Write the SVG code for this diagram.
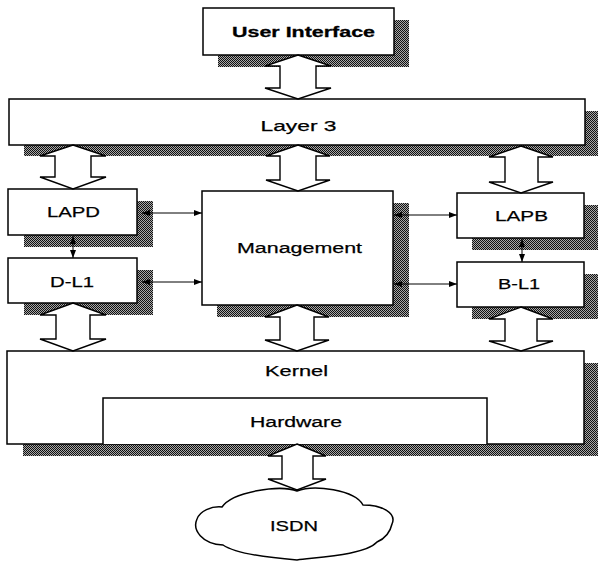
<svg xmlns="http://www.w3.org/2000/svg" width="598" height="562" viewBox="0 0 598 562">
  <defs>
    <!-- dithered halftone used for the drop shadows -->
    <pattern id="halftone" width="2" height="2" patternUnits="userSpaceOnUse">
      <rect width="2" height="2" fill="#a8a8a8"/>
      <rect x="0" y="0" width="1" height="1" fill="#111"/>
      <rect x="1" y="1" width="1" height="1" fill="#111"/>
    </pattern>
    <marker id="tip" viewBox="0 0 8 6" refX="8" refY="3" markerWidth="8" markerHeight="6" markerUnits="userSpaceOnUse" orient="auto-start-reverse">
      <path d="M0,0 L8,3 L0,6 Z" fill="#000"/>
    </marker>
  </defs>
  <style>
    .shadow { fill: url(#halftone); }
    .box { fill: #fff; stroke: #000; stroke-width: 1.5; }
    .big { fill: #fff; stroke: #000; stroke-width: 1.4; stroke-linejoin: miter; }
    .link { fill: none; stroke: #000; stroke-width: 1; marker-start: url(#tip); marker-end: url(#tip); }
    .label { font-family: "Liberation Sans", Arial, sans-serif; font-size: 15.5px; fill: #000; stroke: #000; stroke-width: 0.25; text-anchor: middle; }
    .bold { font-weight: bold; stroke-width: 0.3; }
  </style>

  <rect width="598" height="562" fill="#fff"/>

  <!-- shadows, drawn beneath everything -->
  <g id="shadows">
    <rect class="shadow" x="218" y="20" width="191" height="47"/>
    <rect class="shadow" x="24" y="111" width="576" height="45"/>
    <rect class="shadow" x="24" y="201" width="129" height="46"/>
    <rect class="shadow" x="24" y="270" width="129" height="45"/>
    <rect class="shadow" x="217" y="203" width="192" height="114"/>
    <rect class="shadow" x="472" y="205" width="128" height="45"/>
    <rect class="shadow" x="472" y="274" width="128" height="45"/>
    <rect class="shadow" x="23" y="363" width="577" height="93"/>
  </g>

  <g id="user-interface">
    <rect class="box" x="203" y="8" width="191" height="47"/>
    <text class="label bold" x="303.5" y="37" textLength="143" lengthAdjust="spacingAndGlyphs">User Interface</text>
  </g>

  <g id="layer3">
    <rect class="box" x="9" y="99" width="576" height="46"/>
    <text class="label" x="298.5" y="131" textLength="76" lengthAdjust="spacingAndGlyphs">Layer 3</text>
  </g>

  <g id="lapd">
    <rect class="box" x="8" y="189" width="129" height="46"/>
    <text class="label" x="73.5" y="217" textLength="53" lengthAdjust="spacingAndGlyphs">LAPD</text>
  </g>

  <g id="d-l1">
    <rect class="box" x="8" y="258" width="129" height="45"/>
    <text class="label" x="72" y="287" textLength="44" lengthAdjust="spacingAndGlyphs">D-L1</text>
  </g>

  <g id="management">
    <rect class="box" x="202" y="191" width="191" height="114"/>
    <text class="label" x="299.5" y="253" textLength="125" lengthAdjust="spacingAndGlyphs">Management</text>
  </g>

  <g id="lapb">
    <rect class="box" x="457" y="193" width="127" height="45"/>
    <text class="label" x="521.5" y="221" textLength="53" lengthAdjust="spacingAndGlyphs">LAPB</text>
  </g>

  <g id="b-l1">
    <rect class="box" x="457" y="262" width="127" height="45"/>
    <text class="label" x="519" y="289" textLength="42" lengthAdjust="spacingAndGlyphs">B-L1</text>
  </g>

  <g id="kernel">
    <rect class="box" x="7" y="351" width="577" height="93"/>
    <text class="label" x="296.5" y="376" textLength="63" lengthAdjust="spacingAndGlyphs">Kernel</text>
  </g>

  <g id="hardware">
    <path class="box" d="M103,444 V398 H487 V444"/>
    <text class="label" x="296" y="427" textLength="92" lengthAdjust="spacingAndGlyphs">Hardware</text>
  </g>

  <g id="isdn">
    <path class="box" d="M222,507 C232,492 280,484 297,491 C314,484 355,490 363,505 C382,505 397,513 392,524 C390,533 384,539 377,542 C365,555 320,557 297,560 C272,558 236,554 223,545 C202,544 192,530 197,519 C200,511 211,506 222,507 Z"/>
    <text class="label" x="294" y="531" textLength="48" lengthAdjust="spacingAndGlyphs">ISDN</text>
  </g>

  <g id="connectors">
    <!-- wide double-headed data-path arrows -->
    <path class="big" d="M298,55 L331,66 L316,66 L316,88 L331,88 L298,99 L265,88 L280,88 L280,66 L265,66 Z"/>
    <path class="big" d="M73,145 L106,156 L91,156 L91,177 L106,177 L73,189 L40,177 L55,177 L55,156 L40,156 Z"/>
    <path class="big" d="M298,145 L330,156 L316,156 L316,180 L330,180 L298,191 L266,180 L280,180 L280,156 L266,156 Z"/>
    <path class="big" d="M521,146 L553,157 L538,157 L538,182 L553,182 L521,193 L489,182 L505,182 L505,157 L489,157 Z"/>
    <path class="big" d="M73,303 L106,315 L90,315 L90,339 L106,339 L73,351 L40,339 L56,339 L56,315 L40,315 Z"/>
    <path class="big" d="M297,305 L329,317 L314,317 L314,340 L329,340 L297,351 L265,340 L280,340 L280,317 L265,317 Z"/>
    <path class="big" d="M521,307 L553,319 L537,319 L537,341 L553,341 L521,351 L489,341 L505,341 L505,319 L489,319 Z"/>
    <path class="big" d="M297,444 L326,456 L313,456 L313,479 L326,479 L297,490 L268,479 L282,479 L282,456 L268,456 Z"/>

    <!-- thin control links -->
    <line class="link" x1="142" y1="213" x2="202" y2="213"/>
    <line class="link" x1="142" y1="282" x2="202" y2="282"/>
    <line class="link" x1="394" y1="215" x2="457" y2="215"/>
    <line class="link" x1="394" y1="284" x2="457" y2="284"/>
    <line class="link" x1="73" y1="236" x2="73" y2="258"/>
    <line class="link" x1="522" y1="239" x2="522" y2="262"/>
  </g>
</svg>
